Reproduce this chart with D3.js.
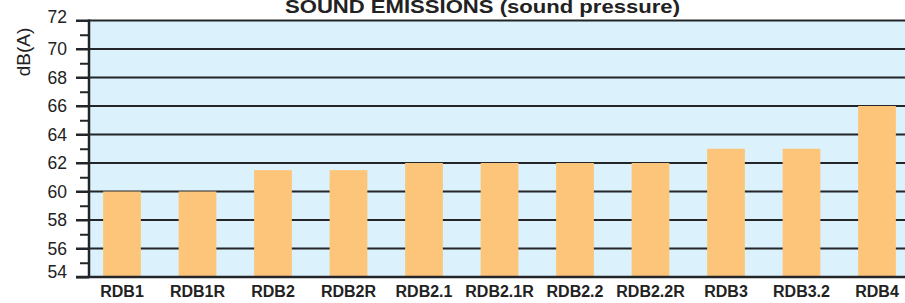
<!DOCTYPE html>
<html>
<head>
<meta charset="utf-8">
<script src="https://cdnjs.cloudflare.com/ajax/libs/d3/7.8.5/d3.min.js"></script>
<style>
  body { margin: 0; background: #fff; }
  svg { display: block; font-family: "Liberation Sans", Arial, sans-serif; }
</style>
</head>
<body>
<div id="chart"></div>
<script>
// donnees
var models = ["RDB1", "RDB1R", "RDB2", "RDB2R", "RDB2.1", "RDB2.1R", "RDB2.2", "RDB2.2R", "RDB3", "RDB3.2", "RDB4"];
var pressure = [60, 60, 61.5, 61.5, 62, 62, 62, 62, 63, 63, 66];
var majorTicks = [54, 56, 58, 60, 62, 64, 66, 68, 70, 72];
var minorTicks = [55, 57, 59, 61, 63, 65, 67, 69, 71];
var titre = "SOUND EMISSIONS (sound pressure)";
var unite = "dB(A)";

var W = 905, H = 303;
var axisX = 89, plotTop = 20.5, plotBottom = 277;

var svg = d3.select("#chart").append("svg")
  .attr("width", W)
  .attr("height", H);

var y = d3.scaleLinear()
  .domain([54, 72])
  .range([plotBottom, plotTop]);

var x = d3.scaleBand()
  .domain(models)
  .range([84.25, 914.75])
  .paddingInner(0.5)
  .paddingOuter(0.25);

// fond de la zone
svg.append("rect")
  .attr("x", axisX)
  .attr("y", y(72))
  .attr("width", W - axisX)
  .attr("height", y(54) - y(72))
  .attr("fill", "#dbf1fc");

// lignes de grille
svg.append("g")
  .selectAll("line")
  .data(majorTicks)
  .enter()
  .append("line")
  .attr("x1", 76)
  .attr("x2", W)
  .attr("y1", function (d) { return y(d); })
  .attr("y2", function (d) { return y(d); })
  .attr("stroke", "#232528")
  .attr("stroke-width", 2);

// barres
svg.append("g")
  .selectAll("rect")
  .data(pressure)
  .enter()
  .append("rect")
  .attr("x", function (d, i) { return x(models[i]); })
  .attr("y", function (d) { return y(d); })
  .attr("width", x.bandwidth())
  .attr("height", function (d) { return y(54) - y(d); })
  .attr("fill", "#fcc57a");

// axe de gauche
var yAxis = svg.append("g")
  .attr("transform", "translate(" + axisX + ",0)")
  .call(d3.axisLeft(y).tickValues(majorTicks).tickSize(13).tickPadding(9).tickFormat(d3.format("d")));
yAxis.select(".domain").remove();
yAxis.selectAll("line").attr("stroke", "#232528").attr("stroke-width", 2);
yAxis.selectAll("text")
  .style("font-size", "17.5px")
  .attr("fill", "#222")
  .attr("dy", function (d) { return d == 54 ? "0.02em" : d == 72 ? "0.14em" : "0.34em"; });

var yMinor = svg.append("g")
  .attr("transform", "translate(" + axisX + ",0)")
  .call(d3.axisLeft(y).tickValues(minorTicks).tickSize(9).tickFormat(""));
yMinor.select(".domain").remove();
yMinor.selectAll("line").attr("stroke", "#232528").attr("stroke-width", 2);

// ligne verticale de l'axe
svg.append("line")
  .attr("x1", axisX)
  .attr("x2", axisX)
  .attr("y1", y(72) - 1)
  .attr("y2", y(54) + 1)
  .attr("stroke", "#232528")
  .attr("stroke-width", 2.5);

// axe du bas
var xAxis = svg.append("g")
  .attr("transform", "translate(0," + y(54) + ")")
  .call(d3.axisBottom(x).tickSize(0).tickPadding(9));
xAxis.select(".domain").remove();
xAxis.selectAll("text")
  .style("font-size", "16px")
  .style("font-weight", "bold")
  .attr("fill", "#222")
  .attr("dy", "0.71em");

svg.append("line")
  .attr("x1", 76)
  .attr("x2", W)
  .attr("y1", y(54))
  .attr("y2", y(54))
  .attr("stroke", "#232528")
  .attr("stroke-width", 2.5);

// titre
svg.append("text")
  .attr("x", 285)
  .attr("y", 12.5)
  .attr("textLength", 395)
  .attr("lengthAdjust", "spacingAndGlyphs")
  .style("font-size", "18px")
  .style("font-weight", "bold")
  .attr("fill", "#222")
  .text(titre);

// unite
svg.append("text")
  .attr("transform", "translate(30,52) rotate(-90)")
  .attr("text-anchor", "middle")
  .style("font-size", "19px")
  .attr("fill", "#222")
  .text(unite);
</script>
</body>
</html>
